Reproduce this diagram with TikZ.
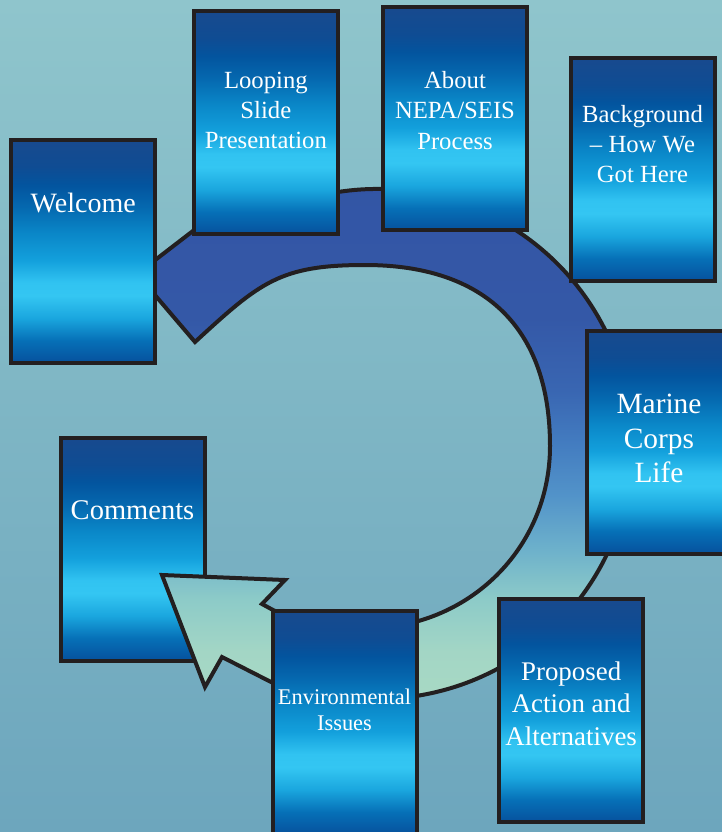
\documentclass[tikz,border=0pt]{standalone}
\usepackage{fontspec}
\setmainfont{Liberation Serif}
\usetikzlibrary{calc}
\definecolor{edge}{HTML}{231F20}
\definecolor{bgtop}{HTML}{8FC5CC}
\definecolor{bgbot}{HTML}{6DA6BD}
\definecolor{bxa}{HTML}{06519D}
\definecolor{bxb}{HTML}{0670B7}
\definecolor{bxc}{HTML}{1AA6DE}
\definecolor{bxd}{HTML}{34C6F2}
\definecolor{bxe}{HTML}{31C3F1}
\definecolor{bxf}{HTML}{13A0DC}
\definecolor{bxg}{HTML}{0A87C8}
\definecolor{bxh}{HTML}{0568AF}
\definecolor{bxi}{HTML}{03549E}
\definecolor{bxj}{HTML}{0F4C93}
\definecolor{bxk}{HTML}{184A8E}
\definecolor{rga}{HTML}{A8D9C4}
\definecolor{rgb}{HTML}{A3D6C5}
\definecolor{rgc}{HTML}{8DCBC8}
\definecolor{rgd}{HTML}{6CB0CB}
\definecolor{rge}{HTML}{5293C9}
\definecolor{rgf}{HTML}{437CC0}
\definecolor{rgg}{HTML}{3966B2}
\definecolor{rgh}{HTML}{3458A7}
\definecolor{rgi}{HTML}{3355A5}
\pgfdeclareverticalshading{boxshade}{100bp}{color(0bp)=(bxa); color(25bp)=(bxa); color(30bp)=(bxb); color(35bp)=(bxc); color(40bp)=(bxd); color(43bp)=(bxe); color(48bp)=(bxf); color(54bp)=(bxg); color(60bp)=(bxh); color(65bp)=(bxi); color(69bp)=(bxj); color(75bp)=(bxk); color(100bp)=(bxk)}
\pgfdeclareverticalshading{ringshade}{100bp}{color(0bp)=(rga); color(25bp)=(rga); color(29.7bp)=(rgb); color(34.6bp)=(rgc); color(39.5bp)=(rgd); color(44.4bp)=(rge); color(49.3bp)=(rgf); color(54.2bp)=(rgg); color(61bp)=(rgh); color(75bp)=(rgi); color(100bp)=(rgi)}
\tikzset{
  box/.style={draw=edge, line width=4pt, shade, shading=boxshade, minimum width=144pt, minimum height=223pt, inner sep=0pt},
  lbl/.style={text=white, align=center, anchor=base, inner sep=0pt},
  ring/.style={draw=edge, line width=4pt, line join=miter, shade, shading=ringshade}
}
\begin{document}
\begin{tikzpicture}[x=1pt,y=-1pt]
\useasboundingbox (0,0) rectangle (722,832);
\path[top color=bgtop, bottom color=bgbot] (0,0) rectangle (722,832);
% Comments box (under the arrowhead)
\node[box] (comm) at (132.5,549) {};
\node[lbl, font=\fontsize{28.5}{34}\selectfont] (commT) at (132.5,519) {Comments};
% ring arrow
\coordinate (oc) at (377,444);
\coordinate (os) at ($(oc)+(-100:255)$);
\coordinate (ib) at (365,628.5);
\coordinate (ir) at (550,446);
\coordinate (it) at (365,265);
\coordinate (tip) at (195,342);
\path[ring] (137,274) -- (215,214) .. controls (260,200) and (300,195) .. (os)
  arc[start angle=-100, end angle=107.6, radius=255]
  -- (273,683) -- (222,657) -- (205,687) -- (162,575) -- (285,580) -- (262,604) -- (273,610)
  .. controls (300,622) and (330,628.5) .. (ib)
  .. controls (468.6,628.5) and (550,548.2) .. (ir)
  .. controls (550,328.4) and (485.3,265) .. (it)
  .. controls (280,265) and (260,282.2) .. (tip)
  -- cycle;
% boxes
\node[box] (welcome) at (83.25,251.25) {};
\node[lbl, font=\fontsize{28}{34}\selectfont] (welcomeT) at (83.25,212.7) {Welcome};
\node[box] (loop) at (265.85,122.65) {};
\node[lbl, font=\fontsize{24.7}{30}\selectfont] (loopT) at (265.85,148.3) {Looping\\Slide\\Presentation};
\node[box] (about) at (455,118.85) {};
\node[lbl, font=\fontsize{24.7}{30.5}\selectfont] (aboutT) at (455,149.3) {About\\NEPA/SEIS\\Process};
\node[box] (bg) at (642.5,169.35) {};
\node[lbl, font=\fontsize{24.7}{30}\selectfont] (bgT) at (642.5,182.7) {Background\\– How We\\Got Here};
\node[box] (marine) at (659,442) {};
\node[lbl, font=\fontsize{29.4}{34.7}\selectfont] (marineT) at (659,482.7) {Marine\\Corps\\Life};
\node[box] (prop) at (571.15,710.65) {};
\node[lbl, font=\fontsize{26.9}{32.5}\selectfont] (propT) at (571.15,745) {Proposed\\Action and\\Alternatives};
\node[box] (env) at (344.5,722.9) {};
\node[lbl, font=\fontsize{22.4}{26}\selectfont] (envT) at (344.5,730) {Environmental\\Issues};
\end{tikzpicture}
\end{document}
